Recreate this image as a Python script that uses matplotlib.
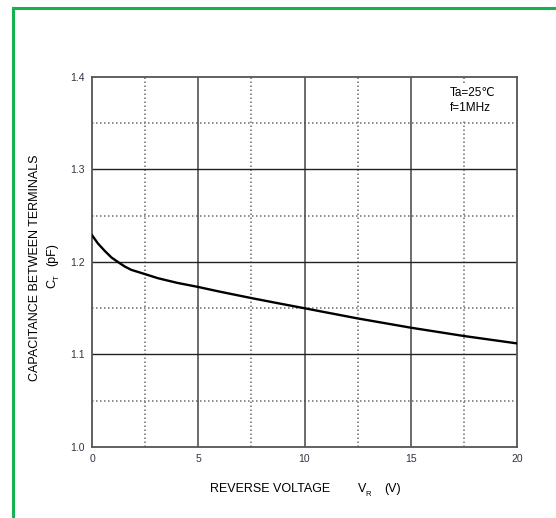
import numpy as np
import matplotlib.pyplot as plt
from matplotlib.lines import Line2D

plt.rcParams['font.family'] = ['Liberation Sans', 'DejaVu Sans']

# curve
vr = [0, 0.28, 0.6, 0.91, 1.22, 1.55, 1.85, 2.48, 3.1, 4.0, 5.0, 6.0, 7.5, 8.85, 10, 12.5, 15, 17.5, 20]
ct = [1.229, 1.220, 1.212, 1.205, 1.200, 1.195, 1.1915, 1.187, 1.1825, 1.1775, 1.173, 1.168, 1.161,
      1.155, 1.150, 1.139, 1.129, 1.120, 1.112]

x_major = [0, 5, 10, 15, 20]
x_minor = [2.5, 7.5, 12.5, 17.5]
y_major = [1.0, 1.1, 1.2, 1.3, 1.4]
y_minor = [1.05, 1.15, 1.25, 1.35]

fig = plt.figure(figsize=(5.56, 5.18), dpi=100)
ax = fig.add_axes([92/556, 1-447/518, 425/556, 370/518])

dots = (0, (0.9, 1.5))
for xv in x_minor:
    ax.axvline(xv, color='#777777', lw=1.2, ls=dots, zorder=1)
for yv in y_minor:
    ax.axhline(yv, color='#777777', lw=1.2, ls=dots, zorder=1)
for xv in x_major[1:-1]:
    ax.axvline(xv, color='#444444', lw=1.1, zorder=1)
for yv in y_major[1:-1]:
    ax.axhline(yv, color='#222222', lw=1.0, zorder=1)

ax.plot(vr, ct, color='black', lw=1.7, zorder=3, solid_joinstyle='round')

ax.set_xlim(0, 20)
ax.set_ylim(1.0, 1.4)
ax.set_xticks(x_major)
ax.set_yticks(y_major)
ax.set_xticklabels([str(v) for v in x_major])
ax.set_yticklabels(['%.1f' % v for v in y_major])
ax.tick_params(length=0, labelsize=7.5, labelcolor='#333344', pad=5)
ax.tick_params(axis='y', pad=5)
for s in ax.spines.values():
    s.set_color('#555555')
    s.set_linewidth(1.3)

# white patch behind the conditions text (hides the dotted grid there)
ax.fill_between([16.5, 19.3], 1.3525, 1.3935, color='white', lw=0, zorder=2)
ax.text(17.9, 1.383, 'Ta=25℃', fontsize=8.5, ha='center', va='center', zorder=4)
ax.text(17.8, 1.3665, 'f=1MHz', fontsize=8.5, ha='center', va='center', zorder=4)

fig.text(270/556, 1-489/518, 'REVERSE VOLTAGE', fontsize=9, ha='center', va='center')
fig.text(362/556, 1-489/518, 'V', fontsize=9, ha='center', va='center')
fig.text(368/556, 1-494/518, 'R', fontsize=5.5, ha='center', va='center')
fig.text(393/556, 1-489/518, '(V)', fontsize=9, ha='center', va='center')

fig.text(35/556, 1-268/518, 'CAPACITANCE BETWEEN TERMINALS', fontsize=9, rotation=90,
         ha='center', va='center')
fig.text(52/556, 1-284/518, 'C', fontsize=9, rotation=90, ha='center', va='center')
fig.text(57/556, 1-278/518, 'T', fontsize=5.5, rotation=90, ha='center', va='center')
fig.text(52/556, 1-255/518, '(pF)', fontsize=9, rotation=90, ha='center', va='center')

# green frame (left and top edges)
green = '#14b350'
fig.add_artist(Line2D([13/556, 13/556], [0, 1-8/518], color=green, lw=2.2))
fig.add_artist(Line2D([13/556, 1], [1-8/518, 1-8/518], color=green, lw=2.2))

fig.savefig('out.png', dpi=100)
